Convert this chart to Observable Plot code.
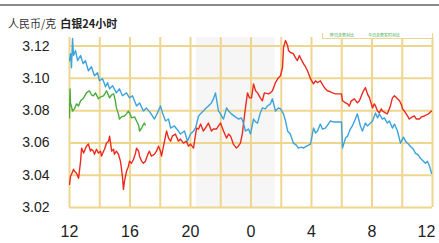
<!DOCTYPE html>
<html>
<head>
<meta charset="utf-8">
<script src="https://cdn.jsdelivr.net/npm/d3@7"></script>
<script src="https://cdn.jsdelivr.net/npm/@observablehq/plot@0.6"></script>
<style>
  html, body { margin: 0; padding: 0; background: #fff; }
  body { width: 439px; height: 243px; position: relative; overflow: hidden;
         font-family: "Liberation Sans", "Noto Sans CJK SC", sans-serif; }
  #topline { position: absolute; left: 0; top: 4px; width: 439px; height: 2px; background: #8a8a8a; }
  #title { position: absolute; left: 8px; top: 16px; font-size: 11px; line-height: 14px; color: #333;
           font-family: "Noto Sans CJK SC", sans-serif; white-space: nowrap; }
  #title b { margin-left: 4px; color: #222; }
  #chart { position: absolute; left: 0; top: 0; }
  #legend { position: absolute; left: 322px; top: 33px; width: 109px; height: 5px;
            border: 1px solid #efd68e; border-top: none; background: #fff;
            font-family: "Noto Sans CJK SC", sans-serif; font-size: 4px; line-height: 5px; color: #3aa33a; white-space: nowrap; }
</style>
</head>
<body>
<div id="chart"></div>
<div id="topline"></div>
<div id="title">人民币/克<b>白银24小时</b></div>
<div id="legend"><span style="margin-left:7px">昨日走势对比</span><span style="margin-left:14px">今日走势实时对比</span></div>
<script>
// time in minutes after 12:00 (first day), prices in 人民币/克
const blueT = [0,4,8,12,16,24,32,44,54,63,75,87,99,111,119,131,143,151,159,171,186,198,210,226,238,250,266,278,293,305,321,337,349,361,369,381,393,401,416,432,440,456,468,480,492,500,512,523,539,551,563,571,579,591,599,607,611,623,631,642,658,670,682,690,698,710,718,730,738,746,757,765,777,785,797,805,817,829,837,849,857,865,876,888,900,908,920,928,940,956,968,976,984,995,1003,1015,1027,1035,1047,1059,1079,1083,1095,1103,1114,1122,1134,1142,1154,1162,1174,1182,1194,1202,1214,1222,1229,1241,1249,1261,1269,1281,1289,1301,1313,1325,1333,1344,1352,1364,1372,1384,1392,1404,1412,1420,1428,1436];
const blueV = [3.1110,3.1153,3.1066,3.1247,3.1141,3.1172,3.1110,3.1141,3.1091,3.1110,3.1047,3.1072,3.1016,3.1035,3.0985,3.0998,3.0948,3.0973,3.0935,3.0954,3.0910,3.0935,3.0892,3.0910,3.0879,3.0892,3.0829,3.0848,3.0798,3.0817,3.0786,3.0748,3.0786,3.0829,3.0786,3.0736,3.0748,3.0692,3.0705,3.0674,3.0655,3.0674,3.0611,3.0655,3.0674,3.0692,3.0767,3.0786,3.0811,3.0829,3.0848,3.0873,3.0910,3.0798,3.0780,3.0755,3.0748,3.0817,3.0798,3.0780,3.0761,3.0748,3.0755,3.0723,3.0674,3.0686,3.0655,3.0748,3.0730,3.0723,3.0786,3.0817,3.0811,3.0829,3.0842,3.0873,3.0798,3.0817,3.0811,3.0780,3.0736,3.0674,3.0655,3.0599,3.0586,3.0568,3.0574,3.0568,3.0580,3.0593,3.0692,3.0661,3.0674,3.0717,3.0686,3.0692,3.0717,3.0736,3.0730,3.0730,3.0730,3.0568,3.0630,3.0642,3.0686,3.0705,3.0748,3.0780,3.0705,3.0674,3.0723,3.0705,3.0723,3.0736,3.0786,3.0755,3.0780,3.0748,3.0755,3.0723,3.0736,3.0692,3.0717,3.0674,3.0599,3.0636,3.0611,3.0593,3.0580,3.0561,3.0537,3.0524,3.0505,3.0487,3.0474,3.0487,3.0456,3.0412];

const greenT = [0,2,4,12,20,28,36,44,56,67,79,87,95,103,115,123,135,147,159,167,175,182,186,194,198,206,218,226,234,242,246,258,266,274,278,286,290,297,301];
const greenV = [3.0755,3.0935,3.0848,3.0798,3.0811,3.0842,3.0829,3.0861,3.0879,3.0910,3.0923,3.0898,3.0892,3.0910,3.0873,3.0885,3.0892,3.0923,3.0879,3.0898,3.0904,3.0861,3.0817,3.0780,3.0748,3.0761,3.0767,3.0780,3.0798,3.0773,3.0755,3.0761,3.0736,3.0711,3.0674,3.0692,3.0705,3.0723,3.0711];

const redT = [0,4,8,16,20,28,36,44,48,56,59,67,75,83,87,95,99,107,115,123,127,135,139,147,155,159,163,167,175,178,186,194,202,206,210,214,218,226,234,238,246,254,262,266,274,278,286,293,301,305,313,317,325,337,345,353,361,365,373,385,393,401,408,420,432,440,452,464,472,480,492,496,504,512,520,531,539,551,563,571,583,591,599,611,623,631,639,650,662,670,678,686,690,698,706,714,722,730,738,746,757,765,773,789,797,805,817,829,837,845,849,857,865,869,876,888,896,904,912,916,928,936,944,956,968,976,984,995,1007,1015,1023,1035,1043,1055,1063,1079,1083,1095,1103,1110,1118,1130,1142,1150,1158,1166,1174,1182,1190,1202,1209,1214,1222,1229,1237,1241,1253,1261,1273,1281,1289,1301,1309,1317,1321,1328,1333,1341,1348,1360,1368,1376,1388,1396,1408,1416,1424,1436];
const redV = [3.0343,3.0393,3.0406,3.0437,3.0424,3.0412,3.0381,3.0487,3.0568,3.0537,3.0549,3.0580,3.0593,3.0549,3.0561,3.0549,3.0530,3.0561,3.0537,3.0549,3.0518,3.0549,3.0561,3.0599,3.0611,3.0642,3.0599,3.0549,3.0561,3.0530,3.0549,3.0530,3.0487,3.0443,3.0393,3.0312,3.0362,3.0424,3.0456,3.0487,3.0474,3.0499,3.0537,3.0568,3.0549,3.0518,3.0487,3.0474,3.0487,3.0505,3.0537,3.0549,3.0518,3.0530,3.0549,3.0580,3.0549,3.0518,3.0580,3.0674,3.0630,3.0611,3.0642,3.0655,3.0611,3.0624,3.0599,3.0611,3.0580,3.0593,3.0568,3.0611,3.0692,3.0686,3.0717,3.0674,3.0692,3.0723,3.0674,3.0686,3.0686,3.0705,3.0723,3.0674,3.0630,3.0655,3.0642,3.0593,3.0568,3.0580,3.0599,3.0661,3.0717,3.0817,3.0910,3.0879,3.0879,3.0966,3.0923,3.0910,3.0879,3.0861,3.0910,3.0904,3.0910,3.0923,3.0973,3.1004,3.1016,3.1066,3.1191,3.1234,3.1203,3.1172,3.1160,3.1153,3.1128,3.1110,3.1141,3.1128,3.1091,3.1072,3.1047,3.0998,3.0966,3.0985,3.0973,3.0985,3.0954,3.0935,3.0923,3.0917,3.0910,3.0904,3.0904,3.0904,3.0861,3.0848,3.0842,3.0829,3.0861,3.0873,3.0848,3.0861,3.0892,3.0923,3.0942,3.0904,3.0879,3.0817,3.0842,3.0829,3.0798,3.0786,3.0811,3.0798,3.0786,3.0780,3.0829,3.0879,3.0892,3.0873,3.0861,3.0836,3.0811,3.0798,3.0786,3.0767,3.0748,3.0761,3.0767,3.0748,3.0748,3.0761,3.0767,3.0773,3.0780,3.0798];

// axis ticks
const xTicks = [0, 240, 480, 720, 960, 1200, 1440];
const xTickLabels = ["12", "16", "20", "0", "4", "8", "12"];
const xGrid = [0, 120, 240, 360, 480, 600, 720, 840, 960, 1080, 1200, 1320, 1440];
const yTicks = [3.02, 3.04, 3.06, 3.08, 3.10, 3.12];
const yDomain = [3.02, 3.1253];
// shaded period (minutes after 12:00)
const shadeFrom = [504];
const shadeTo = [816];

const toRows = (T, V) => T.map((t, i) => ({t, v: V[i]}));
const blue = toRows(blueT, blueV);
const green = toRows(greenT, greenV);
const red = toRows(redT, redV);
const shade = shadeFrom.map((a, i) => ({a, b: shadeTo[i]}));
const labelOf = d => xTickLabels[xTicks.indexOf(d)];

const gridColor = "#efd68e";

const chart = Plot.plot({
  width: 439,
  height: 243,
  marginTop: 37,
  marginBottom: 36,
  marginLeft: 69,
  marginRight: 7,
  x: {domain: [0, 1440], label: null},
  y: {domain: yDomain, label: null},
  style: {fontFamily: "'Liberation Sans', sans-serif", color: "#222", background: "transparent"},
  marks: [
    Plot.rect(shade, {x1: "a", x2: "b", fill: "#f6f6f6"}),
    Plot.gridX(xGrid, {stroke: gridColor, strokeOpacity: 1, strokeWidth: 2}),
    Plot.gridY(yTicks, {stroke: gridColor, strokeOpacity: 1, strokeWidth: 2}),
    Plot.line(green, {x: "t", y: "v", stroke: "#48ad3c", strokeWidth: 1.4, clip: true}),
    Plot.line(red, {x: "t", y: "v", stroke: "#ec2a1e", strokeWidth: 1.4, clip: true}),
    Plot.line(blue, {x: "t", y: "v", stroke: "#3ba3de", strokeWidth: 1.4, clip: true}),
    Plot.axisX(xTicks.slice(0, -1), {tickSize: 0, tickPadding: 18, fontSize: 16, label: null, tickFormat: labelOf}),
    Plot.axisX(xTicks.slice(-1), {tickSize: 0, tickPadding: 18, fontSize: 16, label: null, dx: -6, tickFormat: labelOf}),
    Plot.axisY(yTicks, {tickSize: 0, tickPadding: 20, fontSize: 14, label: null, tickFormat: d3.format(".2f")})
  ]
});
document.getElementById("chart").appendChild(chart);
</script>
</body>
</html>
